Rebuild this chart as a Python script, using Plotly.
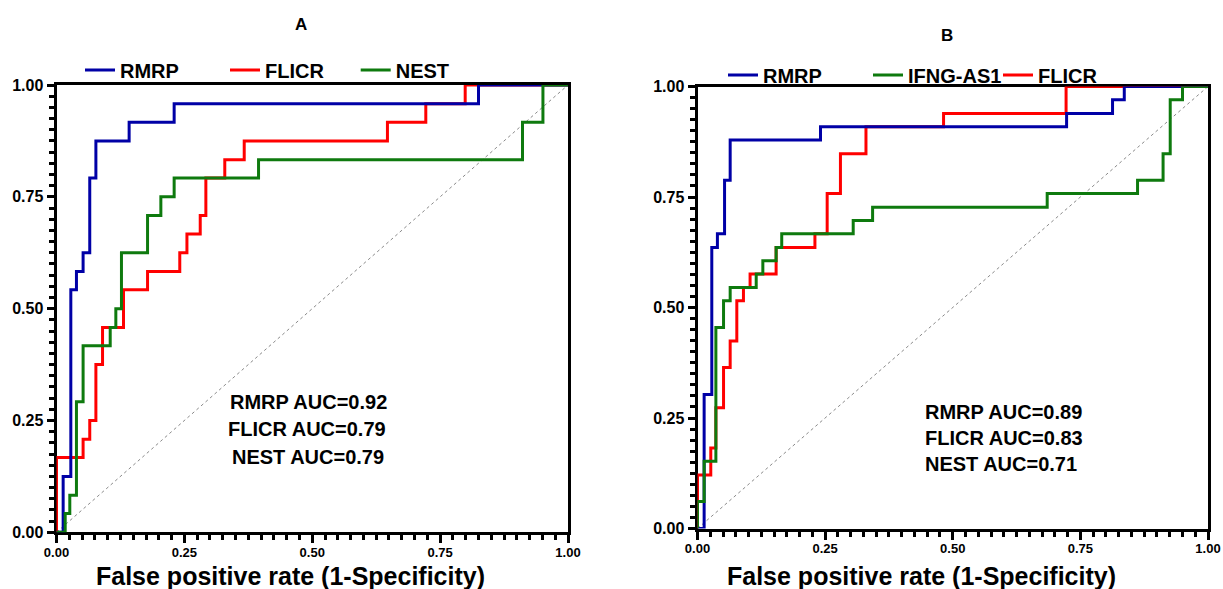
import plotly.graph_objects as go

W, H = 1223, 589
FONT = "Liberation Sans, Arial, sans-serif"
BLUE = "#0000A6"
RED = "#FF0000"
GREEN = "#0E7A0E"

# ---------------- Panel A data (FPR, TPR step corners) ----------------
a_rmrp_fpr = [0, 0.013, 0.028, 0.039, 0.052, 0.065, 0.077, 0.142, 0.230, 0.825, 1.0]
a_rmrp_tpr = [0, 0.125, 0.542, 0.583, 0.625, 0.792, 0.875, 0.917, 0.958, 1.0, 1.0]

a_flicr_fpr = [0, 0, 0.052, 0.065, 0.077, 0.090, 0.131, 0.178, 0.241, 0.255, 0.281,
               0.292, 0.329, 0.367, 0.647, 0.722, 0.799, 1.0]
a_flicr_tpr = [0, 0.167, 0.208, 0.250, 0.375, 0.458, 0.542, 0.583, 0.625, 0.667, 0.708,
               0.792, 0.833, 0.875, 0.917, 0.958, 1.0, 1.0]

a_nest_fpr = [0, 0.017, 0.026, 0.039, 0.052, 0.105, 0.116, 0.127, 0.178, 0.204, 0.230,
              0.395, 0.911, 0.951, 1.0]
a_nest_tpr = [0, 0.042, 0.083, 0.292, 0.417, 0.458, 0.500, 0.625, 0.708, 0.750, 0.792,
              0.833, 0.917, 1.0, 1.0]

# ---------------- Panel B data ----------------
b_rmrp_fpr = [0, 0.013, 0.028, 0.039, 0.053, 0.064, 0.241, 0.723, 0.813, 0.836, 1.0]
b_rmrp_tpr = [0, 0.303, 0.636, 0.667, 0.788, 0.879, 0.909, 0.939, 0.970, 1.0, 1.0]

b_flicr_fpr = [0, 0, 0.026, 0.036, 0.051, 0.064, 0.077, 0.090, 0.103, 0.154, 0.230,
               0.254, 0.280, 0.330, 0.482, 0.722, 1.0]
b_flicr_tpr = [0, 0.121, 0.182, 0.273, 0.364, 0.424, 0.515, 0.545, 0.576, 0.636, 0.667,
               0.758, 0.848, 0.909, 0.939, 1.0, 1.0]

b_ifng_fpr = [0, 0, 0.013, 0.036, 0.051, 0.064, 0.115, 0.128, 0.154, 0.165, 0.305,
              0.343, 0.685, 0.862, 0.912, 0.926, 0.950, 1.0]
b_ifng_tpr = [0, 0.061, 0.152, 0.455, 0.515, 0.545, 0.576, 0.606, 0.636, 0.667, 0.697,
              0.727, 0.758, 0.788, 0.848, 0.970, 1.0, 1.0]

panel_titles = ["A", "B"]
auc_a = ["RMRP AUC=0.92", "FLICR AUC=0.79", "NEST AUC=0.79"]
auc_b = ["RMRP AUC=0.89", "FLICR AUC=0.83", "NEST AUC=0.71"]
x_title = "False positive rate (1-Specificity)"

fig = go.Figure()

# diagonal reference lines
for xr, yr in [("x", "y"), ("x2", "y2")]:
    fig.add_trace(go.Scatter(x=[0, 1], y=[0, 1], xaxis=xr, yaxis=yr, mode="lines",
                             line=dict(color="#8a8a8a", width=1, dash="dot"),
                             showlegend=False, hoverinfo="skip"))

curves = [
    # panel A  (draw order: red, blue, green)
    ("FLICR", a_flicr_fpr, a_flicr_tpr, RED, "x", "y", "legend2"),
    ("RMRP", a_rmrp_fpr, a_rmrp_tpr, BLUE, "x", "y", "legend"),
    ("NEST", a_nest_fpr, a_nest_tpr, GREEN, "x", "y", "legend3"),
    # panel B
    ("FLICR", b_flicr_fpr, b_flicr_tpr, RED, "x2", "y2", "legend6"),
    ("RMRP", b_rmrp_fpr, b_rmrp_tpr, BLUE, "x2", "y2", "legend4"),
    ("IFNG-AS1", b_ifng_fpr, b_ifng_tpr, GREEN, "x2", "y2", "legend5"),
]
for name, fx, ty, col, xr, yr, lg in curves:
    fig.add_trace(go.Scatter(x=fx, y=ty, xaxis=xr, yaxis=yr, mode="lines", name=name,
                             line=dict(color=col, width=3, shape="hv"),
                             legend=lg, showlegend=True))


def axis(domain, anchor, fsize, tlen, standoff):
    return dict(domain=domain, anchor=anchor, range=[0, 1], showgrid=False, zeroline=False,
                showline=True, linecolor="black", linewidth=3, mirror=True,
                ticks="outside", ticklen=tlen, tickwidth=2.5, tickcolor="black",
                tickmode="linear", tick0=0, dtick=0.25, tickformat=".2f",
                ticklabelstandoff=standoff,
                tickfont=dict(family=FONT, size=fsize, color="black", weight="bold"),
                layer="below traces", fixedrange=True, automargin=False,
                minor=dict(tickmode="linear", dtick=0.025, tick0=0, ticks="outside",
                           ticklen=5, tickwidth=2.5, tickcolor="black", showgrid=False))


def legend(sample_x, cy):
    return dict(x=(sample_x - 5) / W, y=1 - cy / H, xanchor="left", yanchor="middle",
                orientation="h", bgcolor="rgba(0,0,0,0)", borderwidth=0,
                font=dict(family=FONT, size=20, color="black", weight="bold"),
                itemclick=False, itemdoubleclick=False)


def note(text, cx, cy, size):
    return dict(text=text, x=cx / W, y=1 - cy / H, xref="paper", yref="paper",
                xanchor="center", yanchor="middle", showarrow=False,
                font=dict(family=FONT, size=size, weight="bold", color="black"))


annotations = [note(panel_titles[0], 301, 24, 17), note(panel_titles[1], 947, 35, 17)]
for txt, (cx, cy) in zip(auc_a, [(308.7, 401.7), (306.5, 429.3), (307.5, 457)]):
    annotations.append(note(txt, cx, cy, 20))
for txt, (cx, cy) in zip(auc_b, [(1003, 412), (1004, 438), (1001, 464)]):
    annotations.append(note(txt, cx, cy, 20))
for cx in [290, 921.5]:
    annotations.append(note(x_title, cx, 576, 25))

fig.update_layout(
    width=W, height=H, margin=dict(l=0, r=0, t=0, b=0, autoexpand=False),
    paper_bgcolor="white", plot_bgcolor="white",
    xaxis=axis([56.5 / W, 568 / W], "y", 13, 8, -2),
    yaxis=axis([(H - 532.3) / H, (H - 85) / H], "x", 16, 7, 0),
    xaxis2=axis([697.5 / W, 1208 / W], "y2", 13, 8, -2),
    yaxis2=axis([(H - 528.5) / H, (H - 86.5) / H], "x2", 16, 7, 0),
    legend=legend(85, 70), legend2=legend(230, 70), legend3=legend(360.7, 70),
    legend4=legend(728, 75), legend5=legend(873, 75), legend6=legend(1003, 75),
    annotations=annotations,
)

fig.write_html("out.html", config={"displayModeBar": False},
               post_script="document.body.style.margin='0';")
